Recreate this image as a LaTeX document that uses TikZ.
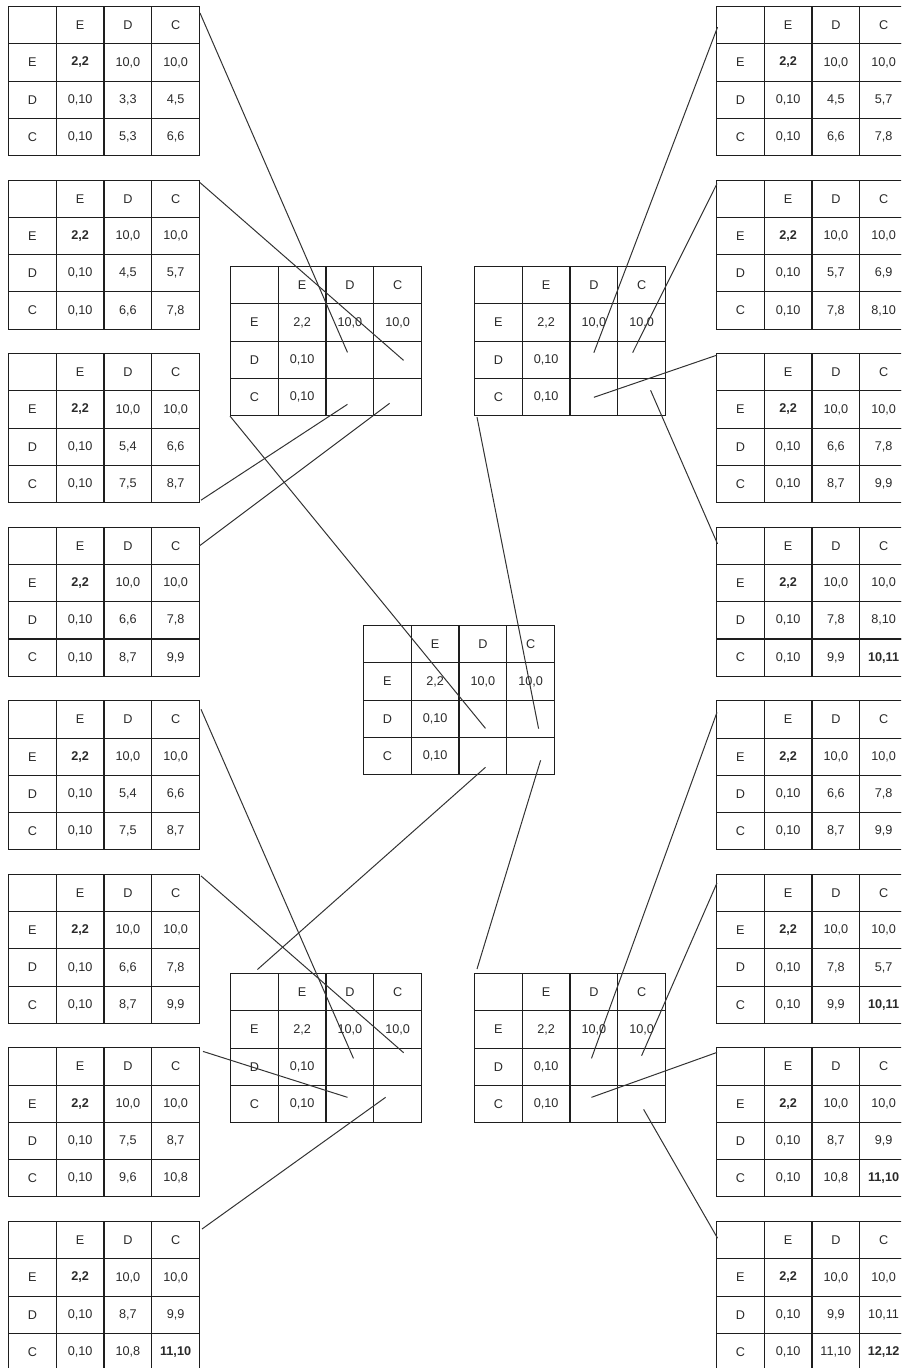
\documentclass[tikz,border=0pt]{standalone}
\usepackage{fontspec}
\setmainfont{Liberation Sans}
\usetikzlibrary{matrix,calc}
\definecolor{tabline}{HTML}{1E1E1E}
\definecolor{txt}{HTML}{2A2A2A}
\definecolor{linkcol}{HTML}{333333}
\tikzset{
  gtable/.style={matrix of nodes, ampersand replacement=\&, nodes in empty cells,
    anchor=north west, inner sep=0pt, outer sep=0pt, column sep=-0.8pt, row sep=-0.8pt,
    nodes={draw=tabline, line width=0.8pt, minimum width=35.8pt, minimum height=27.94pt,
      inner sep=0pt, outer sep=0pt, font=\fontsize{9.5}{11}\selectfont, text=txt, anchor=center}},
  link/.style={draw=linkcol, line width=0.75pt},
}
\newcommand{\gtab}[5]{%
  \matrix (#1) [gtable] at (#2) {
    \& E \& D \& C \\
    E \& #3 \& 10,0 \& 10,0 \\
    D \& 0,10 #4 \\
    C \& 0,10 #5 \\
  };}
\begin{document}
\begin{tikzpicture}[x=0.75pt,y=-0.75pt]
\useasboundingbox (0,0) rectangle (901,1368);
\clip (0,0) rectangle (901,1368);
% left column
\gtab{L1}{8,6}{\textbf{2,2}}{\& 3,3 \& 4,5}{\& 5,3 \& 6,6}
\gtab{L2}{8,179.6}{\textbf{2,2}}{\& 4,5 \& 5,7}{\& 6,6 \& 7,8}
\gtab{L3}{8,353.1}{\textbf{2,2}}{\& 5,4 \& 6,6}{\& 7,5 \& 8,7}
\gtab{L4}{8,526.7}{\textbf{2,2}}{\& 6,6 \& 7,8}{\& 8,7 \& 9,9}
\gtab{L5}{8,700.3}{\textbf{2,2}}{\& 5,4 \& 6,6}{\& 7,5 \& 8,7}
\gtab{L6}{8,873.9}{\textbf{2,2}}{\& 6,6 \& 7,8}{\& 8,7 \& 9,9}
\gtab{L7}{8,1047.4}{\textbf{2,2}}{\& 7,5 \& 8,7}{\& 9,6 \& 10,8}
\gtab{L8}{8,1221}{\textbf{2,2}}{\& 8,7 \& 9,9}{\& 10,8 \& \textbf{11,10}}
% right column
\gtab{R1}{716,6}{\textbf{2,2}}{\& 4,5 \& 5,7}{\& 6,6 \& 7,8}
\gtab{R2}{716,179.6}{\textbf{2,2}}{\& 5,7 \& 6,9}{\& 7,8 \& 8,10}
\gtab{R3}{716,353.1}{\textbf{2,2}}{\& 6,6 \& 7,8}{\& 8,7 \& 9,9}
\gtab{R4}{716,526.7}{\textbf{2,2}}{\& 7,8 \& 8,10}{\& 9,9 \& \textbf{10,11}}
\gtab{R5}{716,700.3}{\textbf{2,2}}{\& 6,6 \& 7,8}{\& 8,7 \& 9,9}
\gtab{R6}{716,873.9}{\textbf{2,2}}{\& 7,8 \& 5,7}{\& 9,9 \& \textbf{10,11}}
\gtab{R7}{716,1047.4}{\textbf{2,2}}{\& 8,7 \& 9,9}{\& 10,8 \& \textbf{11,10}}
\gtab{R8}{716,1221}{\textbf{2,2}}{\& 9,9 \& 10,11}{\& 11,10 \& \textbf{12,12}}
% middle tables
\gtab{TL}{230,266}{2,2}{\& \&}{\& \&}
\gtab{TR}{474,266}{2,2}{\& \&}{\& \&}
\gtab{CT}{363,625}{2,2}{\& \&}{\& \&}
\gtab{BL}{230,973}{2,2}{\& \&}{\& \&}
\gtab{BR}{474,973}{2,2}{\& \&}{\& \&}
% links to top-left table
\draw[link] ($(L1.north east)+(0,7)$) -- ($(TL-3-3)+(-2.4,-7.3)$);
\draw[link] ($(L2.north east)+(0,3)$) -- ($(TL-3-4)+(6,0.7)$);
\draw[link] ($(L3.south east)+(1,-3)$) -- ($(TL-4-3)+(-2.4,7.4)$);
\draw[link] (L4-1-4.east) -- ($(TL-4-4)+(-8,6.4)$);
\draw[link] (TL.south west) -- ($(CT-3-3)+(2.6,9.7)$);
% links to top-right table
\draw[link] ($(R1-1-1.west)+(1,2)$) -- ($(TR-3-3)+(0,-7)$);
\draw[link] ($(R2.north west)+(1,4)$) -- ($(TR-3-4)+(-9,-7)$);
\draw[link] ($(R3.north west)+(1,2)$) -- ($(TR-4-3)+(0,0.4)$);
\draw[link] ($(R4-1-1.west)+(1,-2)$) -- ($(TR-4-4)+(9,-6.6)$);
\draw[link] ($(TR.south west)+(3,1)$) -- ($(CT-3-4)+(8,10)$);
% links to bottom-left table
\draw[link] ($(L5.north east)+(1,9)$) -- ($(BL-3-3)+(3.6,-8.3)$);
\draw[link] ($(L6.north east)+(1,2)$) -- ($(BL-3-4)+(6,-14)$);
\draw[link] ($(L7.north east)+(3,4)$) -- ($(BL-4-3)+(-2.4,-6.6)$);
\draw[link] ($(L8.north east)+(2,8)$) -- ($(BL-4-4)+(-12,-6.6)$);
\draw[link] ($(BL-1-1.north)+(3,-4)$) -- ($(CT-4-3)+(2.6,11.4)$);
% links to bottom-right table
\draw[link] ($(R5.north west)+(1,12)$) -- ($(BR-3-3)+(-2.4,-8.3)$);
\draw[link] ($(R6.north west)+(1,9)$) -- ($(BR-3-4)+(0,-11)$);
\draw[link] ($(R7.north west)+(1,5)$) -- ($(BR-4-3)+(-2.4,-6.6)$);
\draw[link] ($(R8-1-1.west)+(1,-2)$) -- ($(BR-4-4)+(2,5.4)$);
\draw[link] ($(BR.north west)+(3,-4)$) -- ($(CT-4-4)+(10,4.4)$);
\end{tikzpicture}
\end{document}
